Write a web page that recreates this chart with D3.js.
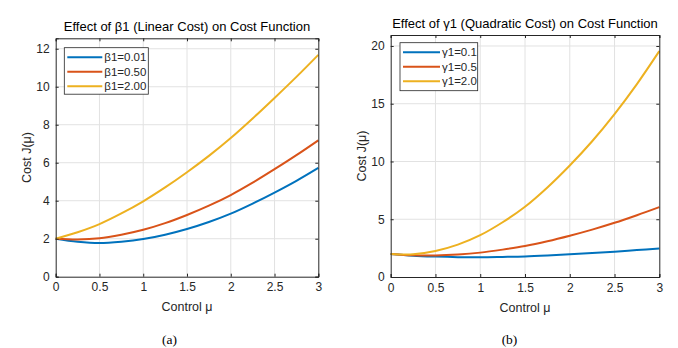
<!DOCTYPE html>
<html>
<head>
<meta charset="utf-8">
<script src="https://cdn.jsdelivr.net/npm/d3@7"></script>
<style>
  body { margin: 0; background: #fff; }
  svg { display: block; font-family: "Liberation Sans", Arial, Helvetica, sans-serif; }
</style>
</head>
<body>
<div id="chart"></div>
<script>
// control values (x axis), shared by both panels
const mu = [0, 0.25, 0.5, 0.75, 1, 1.25, 1.5, 1.75, 2, 2.25, 2.5, 2.75, 3]

// panel (a): effect of beta1
const betaLabels = ['β1=0.01', 'β1=0.50', 'β1=2.00']
const costBeta001 = [2, 1.84, 1.77, 1.84, 1.98, 2.21, 2.51, 2.88, 3.32, 3.85, 4.43, 5.05, 5.73]
const costBeta050 = [2, 1.96, 2.02, 2.21, 2.47, 2.82, 3.25, 3.74, 4.30, 4.95, 5.66, 6.40, 7.18]
const costBeta200 = [2, 2.34, 2.77, 3.33, 3.97, 4.70, 5.50, 6.36, 7.30, 8.33, 9.41, 10.52, 11.68]

// panel (b): effect of gamma1
const gammaLabels = ['γ1=0.1', 'γ1=0.5', 'γ1=2.0']
const costGamma01 = [2, 1.85, 1.77, 1.72, 1.71, 1.74, 1.78, 1.86, 1.96, 2.07, 2.19, 2.33, 2.47]
const costGamma05 = [2, 1.88, 1.87, 1.95, 2.11, 2.37, 2.68, 3.09, 3.57, 4.10, 4.69, 5.35, 6.05]
const costGamma20 = [2, 1.97, 2.25, 2.80, 3.62, 4.74, 6.08, 7.75, 9.65, 11.75, 14.10, 16.70, 19.55]

const yTicksA = [0, 2, 4, 6, 8, 10, 12]
const yTicksB = [0, 5, 10, 15, 20]
const xTicks = [0, 0.5, 1, 1.5, 2, 2.5, 3]

const colors = ['#0072BD', '#D95319', '#EDB120']
const axisColor = '#262626'

const width = 678, height = 348

let svg = d3.select('#chart').append('svg')
    .attr('width', width)
    .attr('height', height)

svg.append('rect').attr('width', width).attr('height', height).attr('fill', '#fff')

function drawPanel(opt) {
    let x = d3.scaleLinear().domain([0, 3]).range([opt.left, opt.right])
    let y = d3.scaleLinear().domain([0, opt.yMax]).range([opt.bottom, opt.top])
    let g = svg.append('g')

    // grid
    g.selectAll('line.vgrid').data(xTicks.slice(1, -1)).enter().append('line')
        .attr('x1', d => x(d)).attr('x2', d => x(d))
        .attr('y1', opt.top).attr('y2', opt.bottom)
        .attr('stroke', '#e2e2e2').attr('stroke-width', 1)
    g.selectAll('line.hgrid').data(opt.yTicks.slice(1)).enter().append('line')
        .attr('x1', opt.left).attr('x2', opt.right)
        .attr('y1', d => y(d)).attr('y2', d => y(d))
        .attr('stroke', '#e2e2e2').attr('stroke-width', 1)

    // curves
    let line = d3.line()
        .x((d, i) => x(mu[i]))
        .y(d => y(d))
        .curve(d3.curveCatmullRom.alpha(0.5))

    opt.series.forEach(function (s, i) {
        g.append('path')
            .attr('d', line(s))
            .attr('fill', 'none')
            .attr('stroke', colors[i])
            .attr('stroke-width', 2)
    })

    // axes (ticks inward like matlab, on all four sides)
    let tl = 3
    let xb = d3.axisBottom(x).tickValues(xTicks).tickSize(-tl).tickPadding(6).tickFormat(d3.format('~g'))
    let xt = d3.axisTop(x).tickValues(xTicks).tickSize(-tl).tickFormat('')
    let yl = d3.axisLeft(y).tickValues(opt.yTicks).tickSize(-tl).tickPadding(6).tickFormat(d3.format('~g'))
    let yr = d3.axisRight(y).tickValues(opt.yTicks).tickSize(-tl).tickFormat('')

    let axes = [
        g.append('g').attr('transform', `translate(0,${opt.bottom})`).call(xb),
        g.append('g').attr('transform', `translate(0,${opt.top})`).call(xt),
        g.append('g').attr('transform', `translate(${opt.left},0)`).call(yl),
        g.append('g').attr('transform', `translate(${opt.right},0)`).call(yr)
    ]
    axes.forEach(function (a) {
        a.select('.domain').attr('stroke', axisColor).attr('stroke-width', 1)
        a.selectAll('.tick line').attr('stroke', axisColor)
        a.selectAll('.tick text').attr('fill', axisColor).style('font-size', '12px')
            .style('font-family', '"Liberation Sans", Arial, sans-serif')
    })

    // title
    g.append('text')
        .attr('x', (opt.left + opt.right) / 2)
        .attr('y', opt.top - 7)
        .attr('text-anchor', 'middle')
        .attr('fill', '#000')
        .style('font-size', '13px')
        .text(opt.title)

    // axis labels
    g.append('text')
        .attr('x', (opt.left + opt.right) / 2)
        .attr('y', opt.bottom + 34.5)
        .attr('text-anchor', 'middle')
        .attr('fill', axisColor)
        .style('font-size', '12.5px')
        .text('Control μ')

    g.append('text')
        .attr('transform', `translate(${opt.left - 25},${(opt.top + opt.bottom) / 2}) rotate(-90)`)
        .attr('text-anchor', 'middle')
        .attr('fill', axisColor)
        .style('font-size', '12.5px')
        .text('Cost J(μ)')

    // legend
    let lg = g.append('g').attr('transform', `translate(${opt.legend.x},${opt.legend.y})`)
    lg.append('rect')
        .attr('width', opt.legend.w).attr('height', opt.legend.h)
        .attr('fill', '#fff').attr('stroke', axisColor).attr('stroke-width', 0.8)
    opt.labels.forEach(function (lab, i) {
        let yy = 9.5 + i * 14.5
        lg.append('line')
            .attr('x1', 3).attr('x2', 3 + opt.legend.lineLen)
            .attr('y1', yy).attr('y2', yy)
            .attr('stroke', colors[i]).attr('stroke-width', 2)
        lg.append('text')
            .attr('x', 5 + opt.legend.lineLen)
            .attr('y', yy + 4)
            .attr('fill', axisColor)
            .style('font-size', '11.5px')
            .text(lab)
    })

    // sub caption
    svg.append('text')
        .attr('x', opt.capX)
        .attr('y', 344)
        .attr('text-anchor', 'middle')
        .attr('fill', '#000')
        .style('font-family', '"Liberation Serif", "Times New Roman", serif')
        .style('font-size', '13.5px')
        .text(opt.caption)
}

drawPanel({
    left: 55.7, right: 318.3, top: 38.3, bottom: 276.7, yMax: 12.55,
    yTicks: yTicksA,
    series: [costBeta001, costBeta050, costBeta200],
    labels: betaLabels,
    title: 'Effect of β1 (Linear Cost) on Cost Function',
    legend: { x: 64.3, y: 47.7, w: 84, h: 46.5, lineLen: 35 },
    caption: '(a)', capX: 169.5
})

drawPanel({
    left: 390.7, right: 659.3, top: 35, bottom: 277, yMax: 20.95,
    yTicks: yTicksB,
    series: [costGamma01, costGamma05, costGamma20],
    labels: gammaLabels,
    title: 'Effect of γ1 (Quadratic Cost) on Cost Function',
    legend: { x: 400, y: 42.7, w: 77.7, h: 48, lineLen: 37 },
    caption: '(b)', capX: 509.5
})
</script>
</body>
</html>
